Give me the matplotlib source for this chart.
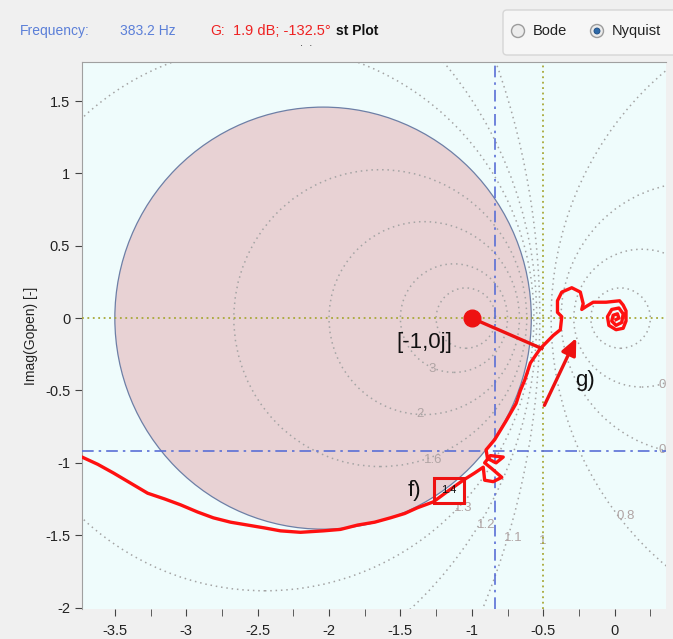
import matplotlib.pyplot as plt
import matplotlib.patches as mpatches
import numpy as np

# ---------------------------------------------------
# DATA
# ---------------------------------------------------

# open-loop Nyquist trace, real and imaginary parts
nyq_re = [-3.73, -3.62, -3.51, -3.39, -3.27, -3.15, -3.04, -2.92, -2.81, -2.69,
          -2.57, -2.45, -2.34, -2.20, -2.04, -1.92, -1.80, -1.68, -1.57, -1.47,
          -1.38, -1.27, -1.16, -1.06, -0.98, -0.92, -0.91, -0.85, -0.79, -0.86,
          -0.91, -0.87, -0.78, -0.83, -0.89, -0.90, -0.84, -0.76, -0.69, -0.66,
          -0.63, -0.59, -0.52, -0.48, -0.43, -0.38, -0.37, -0.40, -0.40, -0.37,
          -0.30, -0.24, -0.22, -0.23, -0.20, -0.15, -0.06, 0.035, 0.06, 0.08,
          0.08, 0.06, 0.01, -0.04, -0.05, -0.02, 0.03, 0.06, 0.05, 0.01,
          -0.02, -0.01, 0.02, 0.03, 0.01]
nyq_im = [-0.96, -1.01, -1.07, -1.14, -1.21, -1.25, -1.29, -1.34, -1.38, -1.41,
          -1.43, -1.45, -1.47, -1.48, -1.47, -1.46, -1.43, -1.41, -1.38, -1.35,
          -1.31, -1.27, -1.19, -1.12, -1.07, -1.03, -1.12, -1.13, -1.10, -1.04,
          -1.00, -0.95, -0.96, -1.00, -0.97, -0.91, -0.84, -0.71, -0.59, -0.50,
          -0.43, -0.31, -0.21, -0.17, -0.12, -0.08, 0.01, 0.04, 0.12, 0.18,
          0.21, 0.18, 0.10, 0.06, 0.08, 0.11, 0.11, 0.12, 0.09, 0.05,
          -0.02, -0.07, -0.08, -0.05, 0.01, 0.06, 0.07, 0.03, -0.03, -0.05,
          -0.02, 0.02, 0.03, 0.00, -0.01]

# closed-loop magnitude contours (M-circles)
m_levels = [0.2, 0.4, 0.6, 0.8, 1.1, 1.2, 1.3, 1.6, 2, 3, 5]
m_shaded = 1.4

# contour labels
m_labels = ["3", "2", "1.6", "1.3", "1.2", "1.1", "1", "0.8", "0", "0"]
m_label_x = [-1.28, -1.36, -1.27, -1.06, -0.90, -0.71, -0.50, 0.08, 0.33, 0.33]
m_label_y = [-0.35, -0.66, -0.98, -1.31, -1.43, -1.52, -1.54, -1.37, -0.91, -0.46]

# cursor point: 383.2 Hz, 1.9 dB, -132.5 deg
cursor_db = 1.9
cursor_deg = -132.5

x_ticks = [-3.5, -3, -2.5, -2, -1.5, -1, -0.5, 0]
x_labels = ["-3.5", "-3", "-2.5", "-2", "-1.5", "-1", "-0.5", "0"]
x_minor = [-3.25, -2.75, -2.25, -1.75, -1.25, -0.75, -0.25, 0.25]
y_ticks = [1.5, 1, 0.5, 0, -0.5, -1, -1.5, -2]
y_labels = ["1.5", "1", "0.5", "0", "-0.5", "-1", "-1.5", "-2"]

# ---------------------------------------------------
# FIGURE
# ---------------------------------------------------

plt.rcParams["font.family"] = ["Liberation Sans", "DejaVu Sans"]

W, H = 673, 639
fig = plt.figure(figsize=(W / 100, H / 100), dpi=100)
fig.patch.set_facecolor("#f0f0f0")

ax = fig.add_axes([82 / W, 1 - 609 / H, (666 - 82) / W, (609 - 62) / H])
ax.set_facecolor("#effcfc")
ax.set_xlim(-3.73, 0.36)
ax.set_ylim(-2.01, 1.77)

grey = "#a4a4a4"

# shaded M = 1.4 circle
c = -m_shaded ** 2 / (m_shaded ** 2 - 1)
r = m_shaded / (m_shaded ** 2 - 1)
ax.add_patch(mpatches.Circle((c, 0), r, facecolor="#e8d2d4",
                             edgecolor="#6d7fa6", lw=0.9, zorder=1))

for m in m_levels:
    c = -m ** 2 / (m ** 2 - 1)
    r = abs(m / (m ** 2 - 1))
    ax.add_patch(mpatches.Circle((c, 0), r, fill=False, edgecolor=grey,
                                 linestyle=(0, (1, 2.5)), lw=1.1, zorder=2))

for txt, lx, ly in zip(m_labels, m_label_x, m_label_y):
    ax.text(lx, ly, txt, color="#b0a4a4", fontsize=9.5,
            ha="center", va="center", zorder=3)

# axes through origin / M = 1 line
ax.axhline(0, color="#a8a838", linestyle=(0, (1, 2)), lw=1.3, zorder=3)
ax.axvline(-0.5, color="#a8a838", linestyle=(0, (1, 2)), lw=1.3, zorder=3)

# cursor lines
g = 10 ** (cursor_db / 20)
cx = g * np.cos(np.radians(cursor_deg))
cy = g * np.sin(np.radians(cursor_deg))
ax.axvline(cx, color="#5a6fd6", linestyle=(0, (7, 3, 1.5, 3)), lw=1.2, zorder=3)
ax.axhline(cy, color="#5a6fd6", linestyle=(0, (7, 3, 1.5, 3)), lw=1.2, zorder=3)

# Nyquist trace
ax.plot(nyq_re, nyq_im, color="#ff1010", lw=2.4, zorder=5,
        solid_joinstyle="round")

# annotations
ax.plot([-1], [0], "o", color="#ee1111", markersize=12, zorder=6)
ax.plot([-1, -0.51], [0, -0.21], color="#ee1111", lw=2.4, zorder=6)
ax.text(-1.33, -0.17, "[-1,0j]", fontsize=16, ha="center", va="center",
        color="#111111", zorder=7)
ax.annotate("", xy=(-0.26, -0.12), xytext=(-0.50, -0.62),
            arrowprops=dict(arrowstyle="-|>,head_width=0.45,head_length=1.0",
                            color="#ee1111", lw=2.4), zorder=7)
ax.text(-0.21, -0.43, "g)", fontsize=16, ha="center", va="center",
        color="#111111", zorder=7)
ax.text(-1.40, -1.19, "f)", fontsize=16, ha="center", va="center",
        color="#111111", zorder=7)
ax.add_patch(mpatches.Rectangle((-1.266, -1.28), 0.21, 0.173, fill=False,
                                edgecolor="#ee1111", lw=2.2, zorder=7))
ax.text(-1.161, -1.19, "1.4", fontsize=8, ha="center", va="center",
        color="#111111", zorder=8)

# ticks and spines
ax.set_xticks(x_ticks)
ax.set_xticklabels(x_labels)
ax.set_xticks(x_minor, minor=True)
ax.set_yticks(y_ticks)
ax.set_yticklabels(y_labels)
ax.tick_params(axis="both", which="both", direction="out", length=5,
               color="#444444", labelsize=10.5, labelcolor="#222222")
ax.tick_params(axis="x", which="both", pad=6)
for side in ["right", "bottom"]:
    ax.spines[side].set_visible(False)
for side in ["left", "top"]:
    ax.spines[side].set_color("#a0a0a0")
ax.set_ylabel("Imag(Gopen) [-]", fontsize=10, color="#222222", labelpad=5)

# ---------------------------------------------------
# HEADER BAR
# ---------------------------------------------------

ty = 1 - 31 / H
fig.text(20 / W, ty, "Frequency:", color="#5b7fd8", fontsize=10, va="center")
fig.text(120 / W, ty, "383.2 Hz", color="#5b7fd8", fontsize=10, va="center")
fig.text(210 / W, ty, "G:", color="#ee2222", fontsize=10, va="center")
fig.text(233 / W, ty, "1.9 dB; -132.5°", color="#ee2222", fontsize=10.5,
         va="center")
fig.text(336 / W, ty, "st Plot", color="#111111", fontsize=10,
         fontweight="bold", va="center")
fig.text(300 / W, 1 - 43 / H, ".  .", color="#333333", fontsize=8,
         va="center")

box = mpatches.FancyBboxPatch((503 / W, 1 - 55 / H), 175 / W, 45 / H,
                              boxstyle="round,pad=0,rounding_size=0.006",
                              transform=fig.transFigure, facecolor="#f6f6f6",
                              edgecolor="#d6d6d6", lw=1, zorder=1)
fig.add_artist(box)

for px, selected in [(518, False), (597, True)]:
    fig.add_artist(mpatches.Ellipse((px / W, ty), 13 / W, 13 / H,
                                    transform=fig.transFigure,
                                    facecolor="#ececec", edgecolor="#9c9c9c",
                                    lw=1, zorder=5))
    if selected:
        fig.add_artist(mpatches.Ellipse((px / W, ty), 6 / W, 6 / H,
                                        transform=fig.transFigure,
                                        facecolor="#2f6aa8",
                                        edgecolor="#1c4a80", lw=0.6,
                                        zorder=6))
fig.text(533 / W, ty, "Bode", color="#222222", fontsize=10.5, va="center")
fig.text(612 / W, ty, "Nyquist", color="#222222", fontsize=10.5, va="center")

plt.savefig("out.png", dpi=100, facecolor=fig.get_facecolor())
